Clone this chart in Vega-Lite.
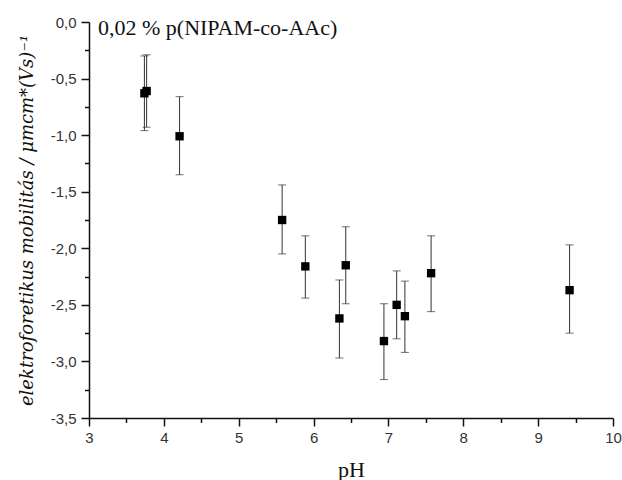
{
  "$schema": "https://vega.github.io/schema/vega-lite/v6.json",
  "autosize": "none",
  "width": 524,
  "height": 396,
  "padding": {"left": 89, "top": 22, "right": 9, "bottom": 62},
  "background": "white",
  "title": {
    "text": "0,02 % p(NIPAM-co-AAc)",
    "anchor": "start",
    "frame": "group",
    "font": "Liberation Serif",
    "fontSize": 22,
    "fontWeight": "normal",
    "color": "#111",
    "offset": 0,
    "baseline": "alphabetic",
    "dx": 9,
    "dy": 42
  },
  "config": {
    "view": {"stroke": null},
    "axis": {"grid": false}
  },
  "data": {
    "values": [
      {"pH": 3.74, "mob": -0.63, "lo": -0.96, "hi": -0.30},
      {"pH": 3.77, "mob": -0.61, "lo": -0.93, "hi": -0.29},
      {"pH": 4.21, "mob": -1.01, "lo": -1.35, "hi": -0.66},
      {"pH": 5.58, "mob": -1.75, "lo": -2.05, "hi": -1.44},
      {"pH": 5.89, "mob": -2.16, "lo": -2.44, "hi": -1.89},
      {"pH": 6.345, "mob": -2.62, "lo": -2.97, "hi": -2.28},
      {"pH": 6.43, "mob": -2.15, "lo": -2.49, "hi": -1.81},
      {"pH": 6.94, "mob": -2.82, "lo": -3.16, "hi": -2.49},
      {"pH": 7.11, "mob": -2.50, "lo": -2.80, "hi": -2.20},
      {"pH": 7.22, "mob": -2.60, "lo": -2.92, "hi": -2.29},
      {"pH": 7.57, "mob": -2.22, "lo": -2.56, "hi": -1.89},
      {"pH": 9.42, "mob": -2.37, "lo": -2.75, "hi": -1.97}
    ]
  },
  "layer": [
    {
      "mark": {"type": "rule", "color": "#333", "strokeWidth": 1},
      "encoding": {
        "x": {
          "field": "pH", "type": "quantitative",
          "scale": {"domain": [3, 10], "nice": false, "zero": false},
          "axis": {
            "values": [3.5, 4.5, 5.5, 6.5, 7.5, 8.5, 9.5],
            "labels": false, "domain": false, "title": null,
            "tickSize": 4.5, "tickWidth": 1.5, "tickColor": "#111", "orient": "bottom"
          }
        },
        "y": {
          "field": "lo", "type": "quantitative",
          "scale": {"domain": [-3.5, 0], "nice": false, "zero": false},
          "axis": {
            "values": [-3.25, -2.75, -2.25, -1.75, -1.25, -0.75, -0.25],
            "labels": false, "domain": false, "title": null,
            "tickSize": 4.5, "tickWidth": 1.5, "tickColor": "#111", "orient": "left"
          }
        },
        "y2": {"field": "hi"}
      }
    },
    {
      "mark": {"type": "tick", "orient": "horizontal", "color": "#333", "size": 8, "thickness": 1},
      "encoding": {
        "x": {"field": "pH", "type": "quantitative", "axis": null},
        "y": {"field": "lo", "type": "quantitative", "axis": null}
      }
    },
    {
      "mark": {"type": "tick", "orient": "horizontal", "color": "#333", "size": 8, "thickness": 1},
      "encoding": {
        "x": {"field": "pH", "type": "quantitative", "axis": null},
        "y": {"field": "hi", "type": "quantitative", "axis": null}
      }
    },
    {
      "mark": {"type": "point", "shape": "square", "filled": true, "color": "black", "opacity": 1, "size": 70},
      "encoding": {
        "x": {
          "field": "pH", "type": "quantitative",
          "axis": {
            "orient": "bottom",
            "values": [3, 4, 5, 6, 7, 8, 9, 10],
            "format": "d",
            "title": "pH",
            "titleFont": "Liberation Serif", "titleFontSize": 22, "titleFontWeight": "normal",
            "titleColor": "#111", "titlePadding": 14,
            "labelFont": "Liberation Sans", "labelFontSize": 15, "labelColor": "#333",
            "labelPadding": 4, "labelFlush": false,
            "domainColor": "#111", "domainWidth": 1.5,
            "tickColor": "#111", "tickWidth": 1.5, "tickSize": 8
          }
        },
        "y": {
          "field": "mob", "type": "quantitative",
          "axis": {
            "orient": "left",
            "values": [-3.5, -3, -2.5, -2, -1.5, -1, -0.5, 0],
            "labelExpr": "replace(replace(format(datum.value, '.1f'), '.', ','), '\u2212', '-')",
            "title": "elektroforetikus mobilitás / μmcm*(Vs)⁻¹",
            "titleFont": "DejaVu Serif", "titleFontSize": 18, "titleFontWeight": "normal",
            "titleFontStyle": "italic",
            "titleColor": "#111", "titlePadding": 14,
            "labelFont": "Liberation Sans", "labelFontSize": 15, "labelColor": "#333",
            "labelPadding": 5, "labelFlush": false,
            "domainColor": "#111", "domainWidth": 1.5,
            "tickColor": "#111", "tickWidth": 1.5, "tickSize": 8
          }
        }
      }
    }
  ],
  "resolve": {"axis": {"x": "independent", "y": "independent"}}
}
